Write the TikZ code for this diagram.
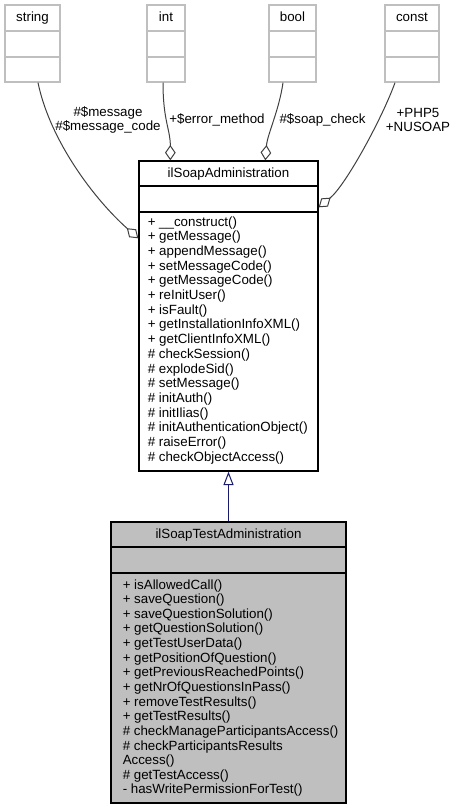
\documentclass[tikz,border=0pt]{standalone}
\usepackage{fontspec}
\setmainfont{Liberation Sans}
\usepackage{tikz}
\usetikzlibrary{arrows.meta,calc}

\definecolor{edgegray}{HTML}{404040}
\definecolor{boxgray}{HTML}{BFBFBF}
\definecolor{inheritblue}{HTML}{191970}

\tikzset{
    typebox/.style={draw=boxgray, line width=1pt, minimum height=77*0.75pt, inner sep=0pt},
    classbox/.style={draw=black, line width=1pt, inner sep=0pt},
    classtitle/.style={inner sep=0pt, anchor=base},
    member/.style={inner sep=0pt, anchor=base west},
    edgelabel/.style={inner sep=0pt, align=center},
    aggr/.style={draw=edgegray, line width=0.75pt, -{Diamond[open, length=11.5pt, width=8pt]}},
    realize/.style={draw=inheritblue, line width=0.75pt, -{Triangle[open, length=10pt, width=7.5pt]}}
}

\begin{document}
\begin{tikzpicture}[x=0.75pt, y=-0.75pt, font=\fontsize{10}{11}\selectfont]
            \useasboundingbox (0,0) rectangle (457,809);
            % Member types
            \foreach \name/\x/\w in {string/32.5/55,int/166/38,bool/292.5/47,const/412/54} {
                \node[typebox, minimum width=\w*0.75pt] (\name) at (\x,43.5) {};
                \node[classtitle] (\name-title) at (\x,22) {\name};
                \draw[boxgray, line width=1pt] (\name.west |- 0,31) -- (\name.east |- 0,31);
                \draw[boxgray, line width=1pt] (\name.west |- 0,57) -- (\name.east |- 0,57);
            }
            % Base class
            \node[classbox, minimum width=179*0.75pt, minimum height=310*0.75pt] (admin) at (228.5,316) {};
            \node[classtitle] (admin-title) at (228.5,177.5) {ilSoapAdministration};
            \draw[line width=1pt] (admin.west |- 0,186) -- (admin.east |- 0,186);
            \draw[line width=1pt] (admin.west |- 0,212) -- (admin.east |- 0,212);
            \foreach \op [count=\i] in {+ \_\_construct(),+ getMessage(),+ appendMessage(),
                + setMessageCode(),+ getMessageCode(),+ reInitUser(),+ isFault(),
                + getInstallationInfoXML(),+ getClientInfoXML(),\# checkSession(),
                \# explodeSid(),\# setMessage(),\# initAuth(),\# initIlias(),
                \# initAuthenticationObject(),\# raiseError(),\# checkObjectAccess()} {
                \node[member] (admin-op-\i) at (147.5,{226+(\i-1)*14.7}) {\op};
            }
            % Derived class
            \node[classbox, fill=boxgray, minimum width=235*0.75pt, minimum height=281*0.75pt] (test) at (228.5,662.5) {};
            \node[classtitle] (test-title) at (228.5,538.5) {ilSoapTestAdministration};
            \draw[line width=1pt] (test.west |- 0,547) -- (test.east |- 0,547);
            \draw[line width=1pt] (test.west |- 0,573) -- (test.east |- 0,573);
            \foreach \op [count=\i] in {+ isAllowedCall(),+ saveQuestion(),+ saveQuestionSolution(),
                + getQuestionSolution(),+ getTestUserData(),+ getPositionOfQuestion(),
                + getPreviousReachedPoints(),+ getNrOfQuestionsInPass(),+ removeTestResults(),
                + getTestResults(),\# checkManageParticipantsAccess(),\# checkParticipantsResults,
                Access(),\# getTestAccess(),- hasWritePermissionForTest()} {
                \node[member] (test-op-\i) at (122.5,{589+(\i-1)*14.64}) {\op};
            }
            % Labels
            \node[edgelabel] (lbl-string) at (108,120) {\#\$message\\\#\$message\_code};
            \node[edgelabel] (lbl-int) at (217,120) {+\$error\_method};
            \node[edgelabel] (lbl-bool) at (322.5,120) {\#\$soap\_check};
            \node[edgelabel] (lbl-const) at (418,120) {+PHP5\\+NUSOAP};
            % Arrows
            \draw[aggr] ($(string.south)+(5.5,0)$) .. controls +(12,58) and +(-44,-39) .. ($(admin.north west)+(0,78)$);
            \draw[aggr] ($(int.south)+(-3,0)$) .. controls +(0,38) and +(0,-31) .. ($(admin.north west)+(32,0)$);
            \draw[aggr] ($(bool.south)+(-9.5,0)$) .. controls +(-4,28) and +(2,-26) .. ($(admin.north west)+(127,0)$);
            \draw[aggr] ($(const.south)+(-17,0)$) .. controls +(-13,36) and +(27,-22) .. ($(admin.north east)+(0,47)$);
            \draw[realize] (test.north) -- (admin.south);
        \end{tikzpicture}
\end{document}
